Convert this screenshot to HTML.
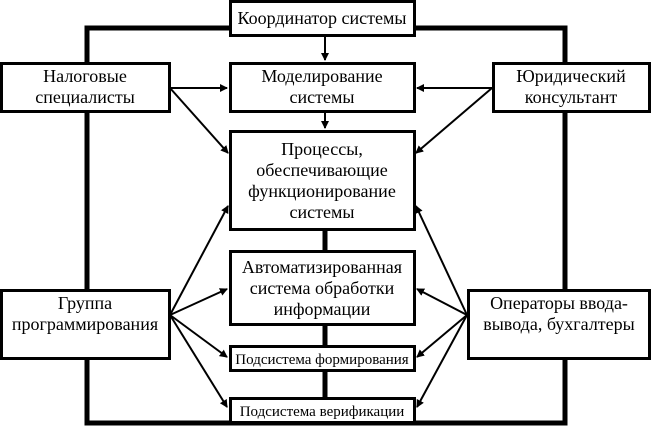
<!DOCTYPE html>
<html><head><meta charset="utf-8"><style>
body{margin:0;background:#fff;}
svg text{font-family:"Liberation Serif","Noto Serif CJK SC",serif;font-size:18px;fill:#000;text-anchor:middle;}
</style></head><body>
<svg width="651" height="436" viewBox="0 0 651 436" xmlns="http://www.w3.org/2000/svg">
<defs><marker id="a" markerWidth="8" markerHeight="8" refX="7" refY="4" orient="auto" markerUnits="userSpaceOnUse"><path d="M0,0 L8,4 L0,8 z" fill="#000"/></marker></defs>
<g fill="none" stroke="#000" stroke-width="5">
<polyline points="87,62 87,28 229,28"/>
<polyline points="415,28 565,28 565,62"/>
<line x1="87" y1="112" x2="87" y2="289"/>
<line x1="565" y1="112" x2="565" y2="289"/>
<polyline points="87,359 87,423 565,423 565,359"/>
<line x1="325" y1="230" x2="325" y2="250"/>
<line x1="325" y1="325" x2="325" y2="345"/>
<line x1="325" y1="371" x2="325" y2="397"/>
</g>
<g stroke="#000" stroke-width="2" marker-end="url(#a)">
<line x1="325" y1="36" x2="325" y2="60"/>
<line x1="325" y1="112" x2="325" y2="128"/>
<line x1="170" y1="88" x2="227" y2="88"/>
<line x1="170" y1="88" x2="228" y2="153"/>
<line x1="492" y1="88" x2="417" y2="88"/>
<line x1="492" y1="88" x2="416" y2="153"/>
<line x1="170" y1="315" x2="228" y2="206"/>
<line x1="170" y1="315" x2="227" y2="289"/>
<line x1="170" y1="315" x2="227" y2="357"/>
<line x1="170" y1="315" x2="227" y2="407"/>
<line x1="467" y1="315" x2="416" y2="206"/>
<line x1="467" y1="315" x2="417" y2="289"/>
<line x1="467" y1="315" x2="417" y2="357"/>
<line x1="467" y1="315" x2="417" y2="407"/>
</g>
<g fill="#fff" stroke="#000" stroke-width="3">
<rect x="230.5" y="1.5" width="184" height="34"/>
<rect x="1.5" y="63.5" width="168" height="48"/>
<rect x="230.5" y="63.5" width="184" height="48"/>
<rect x="493.5" y="63.5" width="156" height="48"/>
<rect x="230.5" y="131.5" width="184" height="98"/>
<rect x="230.5" y="251.5" width="184" height="73"/>
<rect x="1.5" y="290.5" width="168" height="68"/>
<rect x="468.5" y="290.5" width="181" height="68"/>
<rect x="230.5" y="346.5" width="184" height="24"/>
<rect x="230.5" y="398.5" width="184" height="24"/>
</g>
<text x="322" y="24">Координатор системы</text>
<text x="85" y="82">Налоговые</text><text x="85" y="103">специалисты</text>
<text x="322" y="82">Моделирование</text><text x="322" y="103">системы</text>
<text x="571" y="82">Юридический</text><text x="571" y="103">консультант</text>
<text x="322" y="155">Процессы,</text><text x="322" y="176">обеспечивающие</text><text x="322" y="197">функционирование</text><text x="322" y="218">системы</text>
<text x="322" y="273">Автоматизированная</text><text x="322" y="294">система обработки</text><text x="322" y="315">информации</text>
<text x="85" y="309">Группа</text><text x="85" y="330">программирования</text>
<text x="559" y="309">Операторы ввода-</text><text x="559" y="330">вывода, бухгалтеры</text>
<text x="322" y="364" style="font-size:15px">Подсистема формирования</text>
<text x="322" y="416" style="font-size:15px">Подсистема верификации</text>
</svg>
</body></html>
